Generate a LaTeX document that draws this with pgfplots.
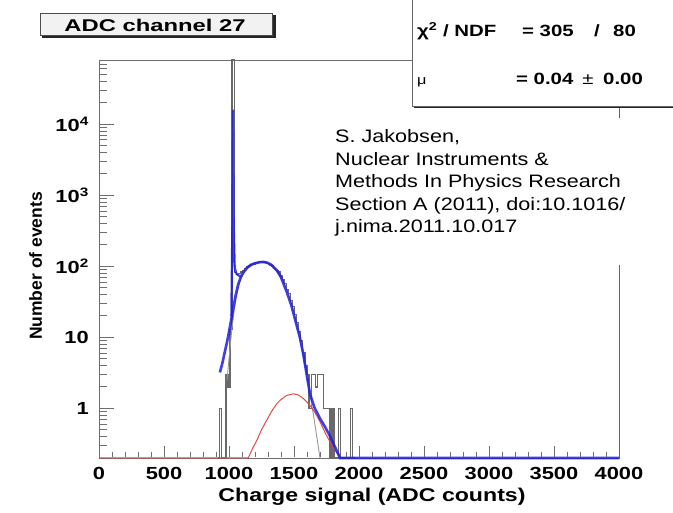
\documentclass[border=0pt]{standalone}
\usepackage{pgfplots}
\pgfplotsset{compat=1.18}
\usepackage{fontspec}
\setmainfont{Liberation Sans}
\newfontfamily\rootsans[FakeStretch=1.25]{Liberation Sans}
\newfontfamily\annofont[FakeStretch=1.2]{Liberation Sans}

\definecolor{fitblue}{RGB}{30,30,225}
\definecolor{compred}{RGB}{225,75,65}
\definecolor{framegray}{RGB}{110,110,110}
\definecolor{histgray}{RGB}{105,105,105}
\definecolor{spegray}{RGB}{150,150,150}

% measured charge spectrum, 16-count bins (left edge, entries)
\pgfplotstableread{
x y
912 0.2
928 1
944 0.2
976 3
992 2
1008 13
1024 80000
1040 82
1056 76
1072 79
1088 83
1104 87
1120 93
1136 98
1152 101
1168 106
1184 108
1200 112
1216 113
1232 116
1248 114
1264 117
1280 112
1296 110
1312 104
1328 101
1344 94
1360 87
1376 83
1392 74
1408 65
1424 57
1440 47
1456 41
1472 33
1488 27
1504 21
1520 16
1536 12
1552 9
1568 6
1584 4
1600 3
1616 1
1632 3
1648 3
1664 2
1680 3
1696 3
1712 3
1728 1
1744 1
1760 1
1776 0.2
1792 1
1808 0.2
1840 1
1856 0.2
1936 1
1952 0.2
1968 0.2
}\spectrum

% total fit: 1 p.e. + 2 p.e. response
\pgfplotstableread{
x y
930 3.2
950 4.4
970 6.5
990 9.5
1010 15
1030 24
1050 38
1070 55
1090 70
1110 82
1140 96
1170 105
1200 110
1235 114
1265 115
1295 112
1325 105
1367 88
1400 70
1444 43.5
1480 28
1515 16
1545 10
1570 6
1600 2.8
1623 1.6
1660 1.0
1700 0.72
1738 0.55
1770 0.43
1803 0.32
1830 0.25
1854 0.2
4000 0.2
}\totalfit

% pedestal peak of the fit
\pgfplotstableread{
x y
1018 20
1026 400
1031 16000
1036 400
1044 95
1058 78
1075 74
1090 72
}\pedestal

% single photoelectron component
\pgfplotstableread{
x y
985 2.5
1000 5
1020 12
1040 24
1060 40
1085 62
1110 78
1140 92
1170 101
1200 108
1235 112
1265 113
1300 109
1340 97
1380 80
1420 60
1460 40
1500 22
1530 13
1560 7
1590 3.5
1620 1.7
1650 0.8
1680 0.35
1700 0.2
}\onepe

% double photoelectron component
\pgfplotstableread{
x y
0 0.2
1148 0.2
1180 0.27
1213 0.35
1250 0.5
1290 0.68
1330 0.92
1367 1.16
1400 1.33
1444 1.52
1495 1.6
1530 1.55
1558 1.44
1590 1.28
1623 1.1
1660 0.88
1700 0.65
1740 0.45
1780 0.33
1820 0.25
1860 0.2
}\twope

\begin{document}
\begin{tikzpicture}[x=1pt,y=1pt]
\path[use as bounding box] (0,0) rectangle (673,513);

\begin{axis}[
  at={(99pt,55pt)}, anchor=south west,
  scale only axis, width=520pt, height=398pt,
  xmin=0, xmax=4000,
  ymode=log, ymin=0.2, ymax=80000,
  clip=false,
  axis line style={framegray, line width=0.8pt},
  xmajorticks=false, ymajorticks=false, xminorticks=false, yminorticks=false,
]
\addplot[const plot, histgray, line width=1.3pt] table {\spectrum};
\addplot[spegray, line width=0.9pt] table {\onepe};
\addplot[compred, line width=1pt] table {\twope};
\addplot[fitblue, opacity=0.85, line width=2.6pt] table {\totalfit};
\addplot[fitblue, opacity=0.85, line width=2.2pt] table {\pedestal};
\end{axis}

% inward ticks along the bottom edge: every 100 counts, long every 500
\foreach \px/\tl in {
  99/11, 112/5.5, 125/5.5, 138/5.5, 151/5.5, 164/11, 177/5.5, 190/5.5, 203/5.5, 216/5.5,
  229/11, 242/5.5, 255/5.5, 268/5.5, 281/5.5, 294/11, 307/5.5, 320/5.5, 333/5.5, 346/5.5,
  359/11, 372/5.5, 385/5.5, 398/5.5, 411/5.5, 424/11, 437/5.5, 450/5.5, 463/5.5, 476/5.5,
  489/11, 502/5.5, 515/5.5, 528/5.5, 541/5.5, 554/11, 567/5.5, 580/5.5, 593/5.5, 606/5.5}
  \draw[framegray, line width=0.9pt] (\px,55.5) -- (\px,55.5+\tl);

% inward ticks along the left edge: decades long, 2..9 short
\foreach \py/\tl in {
  67.51/7, 76.38/7, 83.27/7, 88.89/7, 93.65/7, 97.77/7, 101.40/7,
  104.66/14, 126.05/7, 138.56/7, 147.43/7, 154.32/7, 159.94/7, 164.70/7, 168.82/7, 172.45/7,
  175.70/14, 197.09/7, 209.60/7, 218.47/7, 225.36/7, 230.98/7, 235.74/7, 239.86/7, 243.49/7,
  246.75/14, 268.14/7, 280.65/7, 289.52/7, 296.41/7, 302.03/7, 306.79/7, 310.91/7, 314.54/7,
  317.80/14, 339.19/7, 351.70/7, 360.57/7, 367.46/7, 373.08/7, 377.84/7, 381.96/7, 385.59/7,
  388.84/14, 410.23/7, 422.74/7, 431.61/7, 438.50/7, 444.12/7, 448.88/7}
  \draw[framegray, line width=0.9pt] (99.5,\py) -- (99.5+\tl,\py);

% tick labels
\begin{scope}[every node/.style={inner sep=0pt, font=\rootsans\bfseries\fontsize{17.5}{20}\selectfont}]
\foreach \px/\lab in {99/0, 164/500, 229/1000, 294/1500, 359/2000, 424/2500, 489/3000, 554/3500, 619/4000}
  \node[anchor=north] at (\px,46) {\lab};
\node[anchor=east] at (89,104.66) {1};
\node[anchor=east] at (89,175.70) {10};
\node[anchor=east] at (89,246.75) {10\textsuperscript{2}};
\node[anchor=east] at (89,317.80) {10\textsuperscript{3}};
\node[anchor=east] at (89,388.84) {10\textsuperscript{4}};
\end{scope}

% right frame edge
\draw[compred!85!black, line width=1pt] (619,55) -- (619,407);
% reference note on a white ground
\fill[white] (328,248) rectangle (627,395);
\begin{scope}[every node/.style={anchor=base west, inner sep=0pt, font=\annofont\fontsize{18}{22}\selectfont}]
\node at (335,370) {S. Jakobsen,};
\node at (335,347) {Nuclear Instruments \&};
\node at (335,325) {Methods In Physics Research};
\node at (335,302) {Section A (2011), doi:10.1016/};
\node at (335,280) {j.nima.2011.10.017};
\end{scope}

% fit statistics box
\fill[black!85] (414,404.5) rectangle (680,408);
\filldraw[fill=white, draw=black!60, line width=0.8pt] (412,407) rectangle (690,520);
\begin{scope}[every node/.style={inner sep=0pt, font=\rootsans\bfseries\fontsize{16.3}{19}\selectfont}]
\node[anchor=base west] at (417,476) {χ\textsuperscript{2} / NDF};
\node[anchor=base west] at (522,476) {= 305};
\node[anchor=base] at (597,476) {/};
\node[anchor=base west] at (613,476) {80};
\node[anchor=base west, font=\rootsans\fontsize{13}{15}\selectfont] at (417,428) {μ};
\node[anchor=base west] at (516,428) {= 0.04};
\node[anchor=base, font=\rootsans\fontsize{16.3}{19}\selectfont] at (588,428) {±};
\node[anchor=base west] at (603,428) {0.00};
\end{scope}

% histogram title box
\fill[black!85] (272,475) rectangle (275.5,498);
\fill[black!85] (42,475) rectangle (275.5,478.5);
\filldraw[fill=black!5, draw=black!70, line width=0.7pt] (40,478) rectangle (272,500);
\node[anchor=base, inner sep=0pt, font=\rootsans\bfseries\fontsize{17}{20}\selectfont] at (155,481) {\scalebox{1.12}[1]{ADC channel 27}};

% axis titles
\node[rotate=90, anchor=base, inner sep=0pt, font=\bfseries\fontsize{17.5}{20}\selectfont] at (42,247) {Number of events};
\node[anchor=base, inner sep=0pt, font=\rootsans\bfseries\fontsize{18.5}{22}\selectfont] at (372,11) {Charge signal (ADC counts)};
\end{tikzpicture}
\end{document}
